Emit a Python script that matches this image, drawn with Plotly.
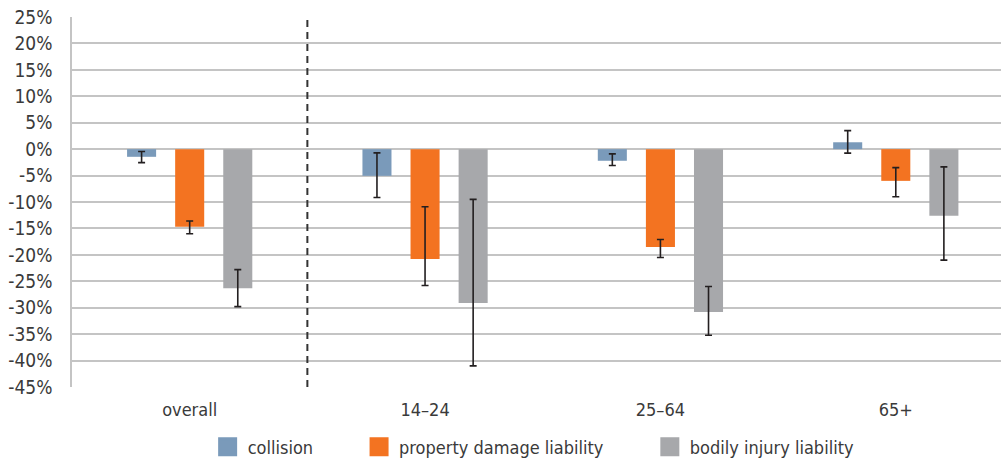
import plotly.graph_objects as go

categories = ["overall", "14–24", "25–64", "65+"]
series_names = ["collision", "property damage liability", "bodily injury liability"]
colors = ["#7a9aba", "#f37321", "#a7a8ab"]

# estimated percent change
collision = [-1.45, -5.05, -2.2, 1.3]
collision_hi = [-0.45, -0.7, -0.9, 3.5]
collision_lo = [-2.55, -9.15, -3.1, -0.75]

property_damage = [-14.7, -20.8, -18.5, -6.0]
property_damage_hi = [-13.6, -10.9, -17.1, -3.5]
property_damage_lo = [-16.0, -25.8, -20.5, -9.0]

bodily_injury = [-26.3, -29.1, -30.8, -12.6]
bodily_injury_hi = [-22.8, -9.5, -26.0, -3.35]
bodily_injury_lo = [-29.8, -41.0, -35.2, -21.0]

y_ticks = list(range(-45, 30, 5))
y_tick_labels = [f"{v}%" for v in y_ticks]

FONT = "DejaVu Sans Condensed, Liberation Sans Narrow, sans-serif"

fig = go.Figure()
series = [
    (collision, collision_hi, collision_lo),
    (property_damage, property_damage_hi, property_damage_lo),
    (bodily_injury, bodily_injury_hi, bodily_injury_lo),
]
for name, color, (vals, hi, lo) in zip(series_names, colors, series):
    fig.add_trace(go.Bar(
        x=categories, y=vals, name=name, showlegend=False,
        marker=dict(color=color, line=dict(width=0)),
        error_y=dict(type="data", symmetric=False,
                     array=[h - v for h, v in zip(hi, vals)],
                     arrayminus=[v - l for l, v in zip(lo, vals)],
                     color="#231f20", thickness=1.6, width=3.5),
    ))

legend_names = ["legend", "legend2", "legend3"]
legend_x = [0.146, 0.309, 0.622]
for name, color, lg in zip(series_names, colors, legend_names):
    fig.add_trace(go.Scatter(
        x=[None], y=[None], mode="markers", name=name, legend=lg,
        marker=dict(symbol="square", size=16, color=color,
                    line=dict(color=color, width=3)),
        hoverinfo="skip",
    ))

legend_common = dict(orientation="h", yanchor="middle", y=-0.162,
                     xanchor="left", bgcolor="rgba(0,0,0,0)",
                     font=dict(family=FONT, size=18, color="#3a3a3a"))
layout_legends = {}
for lg, lx in zip(legend_names, legend_x):
    layout_legends[lg] = dict(x=lx, **legend_common)

fig.add_shape(type="line", xref="x", yref="y", x0=0.5, x1=0.5, y0=-45, y1=25,
              line=dict(color="#333333", width=2, dash="7px,5px"))

fig.update_layout(
    width=1001, height=460,
    margin=dict(l=72, r=0, t=17, b=73, autoexpand=False),
    paper_bgcolor="white", plot_bgcolor="white",
    barmode="group", bargap=0.387, bargroupgap=0.396,
    font=dict(family=FONT, size=18, color="#3a3a3a"),
    xaxis=dict(range=[-0.5, 3.447], showgrid=False, ticks="", showline=False,
               automargin=False,
               ticklabelstandoff=10, tickfont=dict(size=18, color="#3a3a3a")),
    yaxis=dict(range=[-45, 25], tickvals=y_ticks, ticktext=y_tick_labels,
               automargin=False,
               showgrid=True, gridcolor="#c4c4c4", gridwidth=1.6,
               zeroline=True, zerolinecolor="#c4c4c4", zerolinewidth=1.6,
               showline=True, linecolor="#c4c4c4", linewidth=1.6,
               ticks="", ticklabelstandoff=14,
               tickfont=dict(size=19, color="#3a3a3a")),
    **layout_legends,
)

fig.write_html(
    "out.html",
    config={"displayModeBar": False},
    post_script="document.body.style.margin='0';document.body.style.overflow='hidden';",
)
